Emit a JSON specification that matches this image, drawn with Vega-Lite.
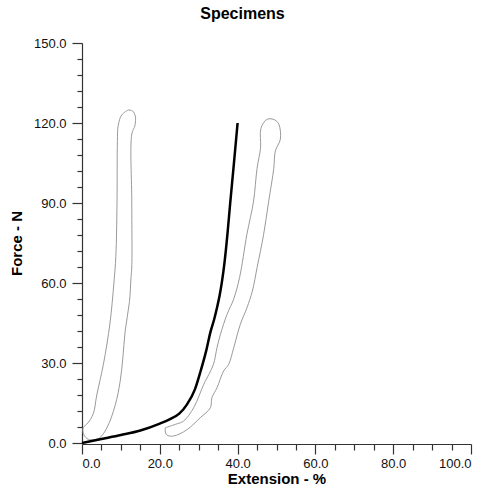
{
  "$schema": "https://vega.github.io/schema/vega-lite/v6.json",
  "width": 389,
  "height": 400,
  "autosize": {"type": "none"},
  "padding": {"left": 82, "top": 43, "right": 14, "bottom": 46},
  "background": "white",
  "title": {"text": "Specimens", "font": "Liberation Sans", "fontSize": 16, "fontWeight": "bold", "color": "#000", "dx": -34, "offset": 15, "anchor": "middle"},
  "config": {
    "view": {"stroke": null},
    "axis": {"grid": false, "labelFont": "Liberation Sans", "labelFontSize": 13, "labelColor": "#111", "titleFont": "Liberation Sans", "titleFontSize": 15, "titleFontWeight": "bold", "titleColor": "#000", "domainColor": "#333", "tickColor": "#333", "domainWidth": 1.2, "tickWidth": 1.2}
  },
  "datasets": {
    "outline": [
      {"s": "A", "o": 1, "x": 11.9, "y": 124.9},
      {"s": "A", "o": 2, "x": 10.2, "y": 123},
      {"s": "A", "o": 3, "x": 9.3, "y": 119},
      {"s": "A", "o": 4, "x": 9.1, "y": 113},
      {"s": "A", "o": 5, "x": 9.0, "y": 90},
      {"s": "A", "o": 6, "x": 8.7, "y": 70},
      {"s": "A", "o": 7, "x": 8.2, "y": 60},
      {"s": "A", "o": 8, "x": 7.2, "y": 45},
      {"s": "A", "o": 9, "x": 5.5, "y": 29.5},
      {"s": "A", "o": 10, "x": 3.8, "y": 18},
      {"s": "A", "o": 11, "x": 2.9, "y": 11},
      {"s": "A", "o": 12, "x": 1.5, "y": 7.5},
      {"s": "A", "o": 13, "x": 0.3, "y": 5.7},
      {"s": "A", "o": 14, "x": 0.5, "y": 3},
      {"s": "A", "o": 15, "x": 1.6, "y": 1.4},
      {"s": "A", "o": 16, "x": 3, "y": 1.2},
      {"s": "A", "o": 17, "x": 4.6, "y": 2},
      {"s": "A", "o": 18, "x": 6.5, "y": 6},
      {"s": "A", "o": 19, "x": 8.5, "y": 14},
      {"s": "A", "o": 20, "x": 9.8, "y": 23},
      {"s": "A", "o": 21, "x": 10.5, "y": 32},
      {"s": "A", "o": 22, "x": 11.1, "y": 42},
      {"s": "A", "o": 23, "x": 12.2, "y": 53},
      {"s": "A", "o": 24, "x": 12.6, "y": 62},
      {"s": "A", "o": 25, "x": 12.8, "y": 66},
      {"s": "A", "o": 26, "x": 12.8, "y": 90},
      {"s": "A", "o": 27, "x": 12.8, "y": 115.8},
      {"s": "A", "o": 28, "x": 13.6, "y": 119},
      {"s": "A", "o": 29, "x": 13.7, "y": 122.6},
      {"s": "A", "o": 30, "x": 13, "y": 124.5},
      {"s": "A", "o": 31, "x": 11.9, "y": 124.9},
      {"s": "B", "o": 1, "x": 21.4, "y": 5.7},
      {"s": "B", "o": 2, "x": 24, "y": 7},
      {"s": "B", "o": 3, "x": 26.1, "y": 8.2},
      {"s": "B", "o": 4, "x": 28.7, "y": 13.2},
      {"s": "B", "o": 5, "x": 31.3, "y": 22},
      {"s": "B", "o": 6, "x": 32.6, "y": 25.7},
      {"s": "B", "o": 7, "x": 33.8, "y": 29.5},
      {"s": "B", "o": 8, "x": 34.7, "y": 35.7},
      {"s": "B", "o": 9, "x": 35.6, "y": 40.8},
      {"s": "B", "o": 10, "x": 37.3, "y": 48.3},
      {"s": "B", "o": 11, "x": 39, "y": 54},
      {"s": "B", "o": 12, "x": 40.5, "y": 62},
      {"s": "B", "o": 13, "x": 42.4, "y": 78.3},
      {"s": "B", "o": 14, "x": 44.1, "y": 90.7},
      {"s": "B", "o": 15, "x": 45, "y": 103},
      {"s": "B", "o": 16, "x": 45.9, "y": 110.7},
      {"s": "B", "o": 17, "x": 46, "y": 118},
      {"s": "B", "o": 18, "x": 47.6, "y": 121.4},
      {"s": "B", "o": 19, "x": 49.5, "y": 121.2},
      {"s": "B", "o": 20, "x": 50.6, "y": 119.5},
      {"s": "B", "o": 21, "x": 51, "y": 114},
      {"s": "B", "o": 22, "x": 49.7, "y": 109.5},
      {"s": "B", "o": 23, "x": 49.3, "y": 103},
      {"s": "B", "o": 24, "x": 48, "y": 90.7},
      {"s": "B", "o": 25, "x": 46.7, "y": 78.3},
      {"s": "B", "o": 26, "x": 45, "y": 65.7},
      {"s": "B", "o": 27, "x": 43.8, "y": 57},
      {"s": "B", "o": 28, "x": 42.4, "y": 50.7},
      {"s": "B", "o": 29, "x": 40.7, "y": 44.5},
      {"s": "B", "o": 30, "x": 39, "y": 35.7},
      {"s": "B", "o": 31, "x": 37.7, "y": 29.5},
      {"s": "B", "o": 32, "x": 36.4, "y": 27},
      {"s": "B", "o": 33, "x": 34.7, "y": 20.7},
      {"s": "B", "o": 34, "x": 33.4, "y": 17},
      {"s": "B", "o": 35, "x": 33, "y": 13.2},
      {"s": "B", "o": 36, "x": 30.4, "y": 9.5},
      {"s": "B", "o": 37, "x": 27, "y": 5},
      {"s": "B", "o": 38, "x": 23.5, "y": 2.6},
      {"s": "B", "o": 39, "x": 21.8, "y": 3},
      {"s": "B", "o": 40, "x": 21.4, "y": 4.5},
      {"s": "B", "o": 41, "x": 21.4, "y": 5.7}
    ],
    "curve": [
      {"o": 1, "x": 0, "y": 0},
      {"o": 2, "x": 5, "y": 1.5},
      {"o": 3, "x": 10, "y": 3},
      {"o": 4, "x": 15, "y": 4.7},
      {"o": 5, "x": 20, "y": 7.3},
      {"o": 6, "x": 22.5, "y": 8.9},
      {"o": 7, "x": 25, "y": 11},
      {"o": 8, "x": 27, "y": 14.5},
      {"o": 9, "x": 29, "y": 20},
      {"o": 10, "x": 30.5, "y": 27},
      {"o": 11, "x": 32, "y": 35},
      {"o": 12, "x": 33, "y": 41.5},
      {"o": 13, "x": 34, "y": 46.5},
      {"o": 14, "x": 34.7, "y": 50.7},
      {"o": 15, "x": 35.4, "y": 55.5},
      {"o": 16, "x": 36, "y": 60.7},
      {"o": 17, "x": 36.7, "y": 68.5},
      {"o": 18, "x": 37.4, "y": 78.5},
      {"o": 19, "x": 38.1, "y": 90},
      {"o": 20, "x": 39, "y": 104},
      {"o": 21, "x": 40, "y": 120}
    ]
  },
  "encoding": {
    "x": {"field": "x", "type": "quantitative", "scale": {"domain": [0, 100], "nice": false},
      "axis": {"title": "Extension - %", "values": [0,5,10,15,20,25,30,35,40,45,50,55,60,65,70,75,80,85,90,95,100],
        "labelExpr": "datum.value % 20 === 0 ? format(datum.value, '.1f') : ''",
        "tickSize": {"condition": {"test": "datum.value % 20 === 0", "value": 10}, "value": 6},
        "labelPadding": 3, "titlePadding": 1, "offset": 1}},
    "y": {"field": "y", "type": "quantitative", "scale": {"domain": [0, 150], "nice": false},
      "axis": {"title": "Force - N", "values": [0,6,12,18,24,30,36,42,48,54,60,66,72,78,84,90,96,102,108,114,120,126,132,138,144,150],
        "labelExpr": "datum.value % 30 === 0 ? format(datum.value, '.1f') : ''",
        "tickSize": {"condition": {"test": "datum.value % 30 === 0", "value": 10}, "value": 5},
        "labelPadding": 6, "titlePadding": 9}},
    "order": {"field": "o", "type": "quantitative"}
  },
  "layer": [
    {"data": {"name": "outline"}, "mark": {"type": "line", "color": "#9a9a9a", "strokeWidth": 1, "interpolate": "catmull-rom"}, "encoding": {"detail": {"field": "s"}}},
    {"data": {"name": "curve"}, "mark": {"type": "line", "color": "#000", "strokeWidth": 2.5, "interpolate": "monotone"}, "encoding": {}}
  ]
}
